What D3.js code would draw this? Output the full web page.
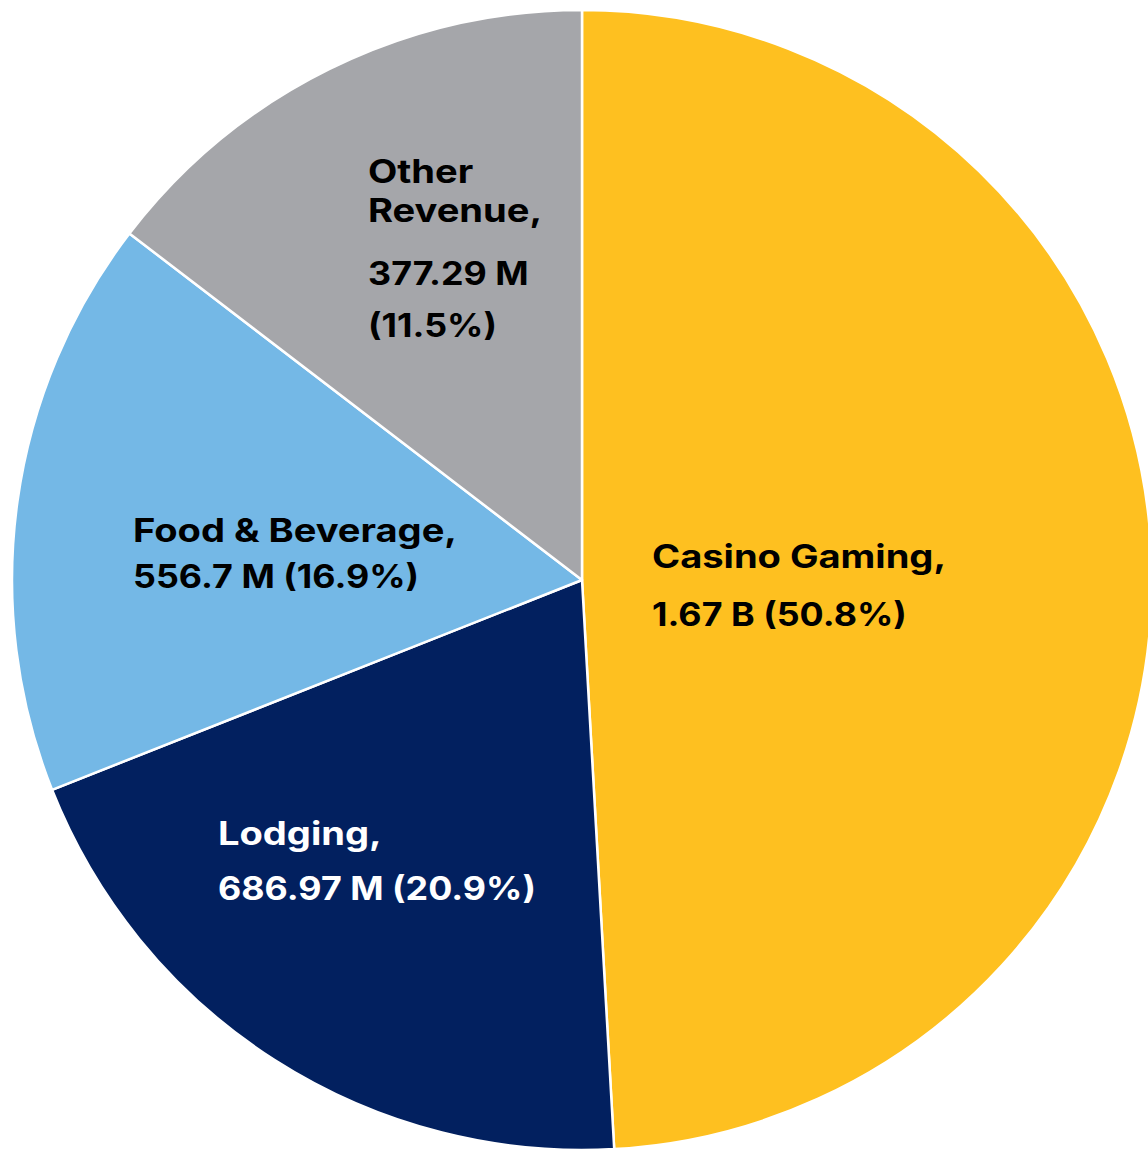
<!DOCTYPE html>
<html>
<head>
<meta charset="utf-8">
<script src="https://cdn.jsdelivr.net/npm/d3@7"></script>
<style>
  html, body { margin: 0; padding: 0; background: #ffffff; }
  svg { display: block; }
</style>
</head>
<body>
<svg id="chart" width="1148" height="1150"></svg>
<script>
// ---- data ----
const categories = ["Casino Gaming", "Lodging", "Food & Beverage", "Other Revenue"];
const valueLabels = ["1.67 B", "686.97 M", "556.7 M", "377.29 M"];
const percentLabels = ["50.8%", "20.9%", "16.9%", "11.5%"];
// slice shares as drawn in the picture (percent of the circle)
const sliceShares = [49.1, 19.9, 16.4, 14.6];

// ---- styling / layout ----
const colors = ["#FEC020", "#02205F", "#74B8E6", "#A5A6AA"];
const textColors = ["#000000", "#ffffff", "#000000", "#000000"];
const cx = 582, cy = 580, radius = 570;
const wordStretch = 1.19, numberStretch = 1.12;

const svg = d3.select("#chart");
const g = svg.append("g").attr("transform", `translate(${cx},${cy})`);

const pie = d3.pie().sort(null).value(d => d.share);
const arc = d3.arc().innerRadius(0).outerRadius(radius);

const data = categories.map((c, i) => ({
  cat: c, share: sliceShares[i], val: valueLabels[i], pct: percentLabels[i], i
}));
const arcs = pie(data);

g.selectAll("path.slice")
  .data(arcs)
  .enter().append("path")
  .attr("class", "slice")
  .attr("d", arc)
  .attr("fill", d => colors[d.data.i])
  .attr("stroke", "#ffffff")
  .attr("stroke-width", 2.5)
  .attr("stroke-linejoin", "round");

// label text built from the data arrays; offsets relative to pie centre
const labelTexts = data.map(d => {
  if (d.i === 3) return ["Other", "Revenue,", d.val, `(${d.pct})`];
  return [d.cat + ",", `${d.val} (${d.pct})`];
});
const labelOffsets = [
  [[70, -12], [70, 46]],
  [[-364, 265], [-364, 320]],
  [[-449, -38], [-449, 8]],
  [[-214, -397], [-214, -358], [-214, -295], [-214, -243]]
];

arcs.forEach(a => {
  const i = a.data.i;
  labelTexts[i].forEach((t, k) => {
    const [dx, dy] = labelOffsets[i][k];
    const s = /^[0-9(]/.test(t) ? numberStretch : wordStretch;
    g.append("text")
      .attr("transform", `translate(${dx},${dy}) scale(${s},1)`)
      .attr("fill", textColors[i])
      .attr("font-family", "Inter, 'Noto Sans', sans-serif")
      .attr("font-weight", 700)
      .attr("font-size", 32)
      .text(t);
  });
});
</script>
</body>
</html>
